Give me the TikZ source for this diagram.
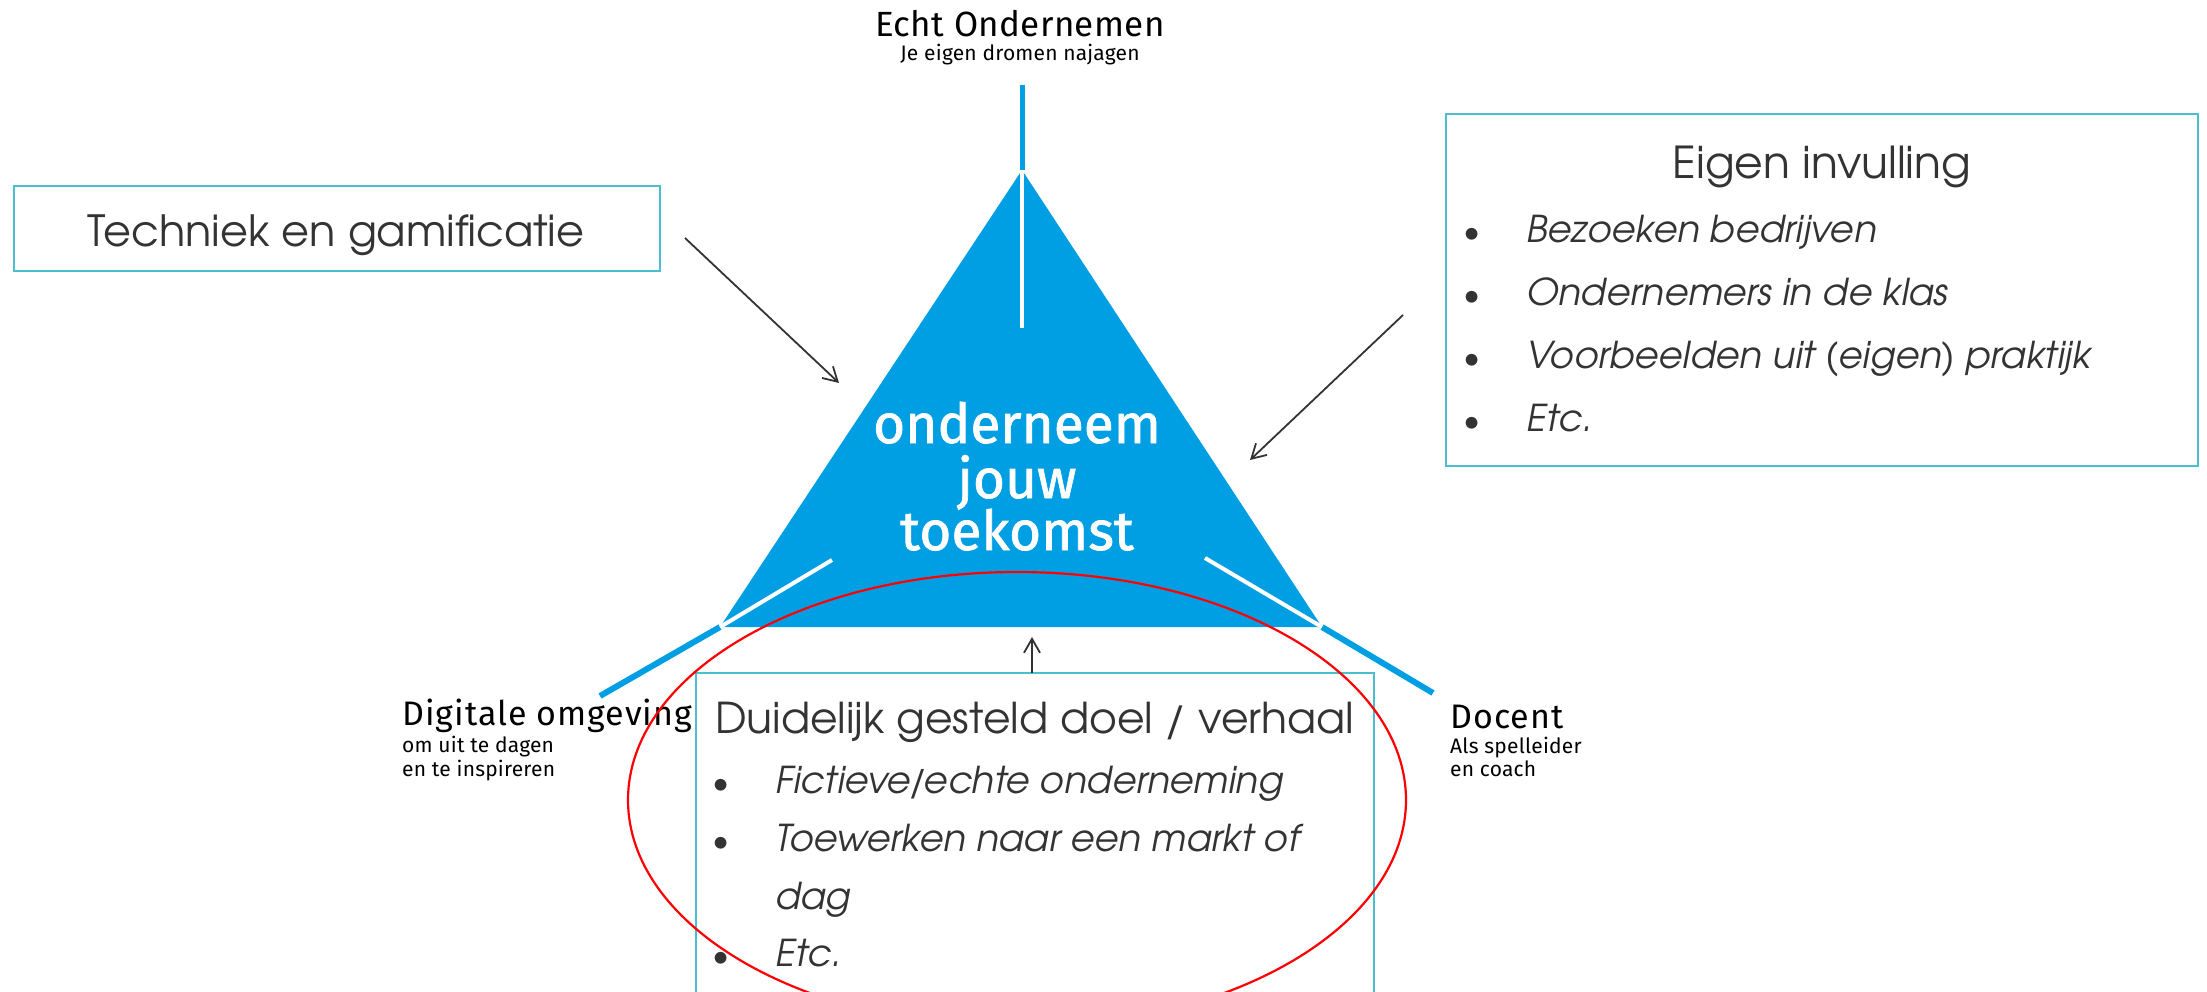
\documentclass[tikz,border=0pt]{standalone}
\usepackage{fontspec}
\setmainfont{Fira Sans}
\newfontfamily\cg{texgyreadventor}[Extension=.otf, UprightFont=*-regular, ItalicFont=*-italic]
\newfontfamily\firamed{Fira Sans}[FakeBold=1.3]
\newfontfamily\lblwide{Fira Sans}[LetterSpace=3]
\newfontfamily\lblmid{Fira Sans}[LetterSpace=1]
\newfontfamily\lblsmall{Fira Sans}[LetterSpace=1]
\usetikzlibrary{arrows.meta}
\definecolor{tblue}{HTML}{009FE3}
\definecolor{tframe}{HTML}{4BBFCE}
\definecolor{ttext}{HTML}{333333}
\begin{document}
\begin{tikzpicture}[x=1pt,y=-1pt,
  box/.style={draw=tframe, line width=2.5pt},
  arr/.style={draw=ttext, line width=1.8pt, -{Straight Barb[length=14pt,width=16pt,line width=1.8pt]}},
  lab/.style={inner sep=0pt, anchor=base west, text=black},
  biglab/.style={lab, font=\lblwide\fontsize{34}{40}\selectfont},
  smalllab/.style={lab, font=\lblsmall\fontsize{21}{25}\selectfont},
  boxtxt/.style={inner sep=0pt, text=ttext, font=\cg\fontsize{44}{50}\selectfont},
  item/.style={inner sep=0pt, anchor=base west, text=ttext, font=\cg\itshape\fontsize{37}{44}\selectfont},
  bul/.style={inner sep=0pt, anchor=base, text=ttext, font=\cg\fontsize{33}{40}\selectfont},
  mid/.style={inner sep=0pt, anchor=base, text=white, font=\firamed\fontsize{55}{60}\selectfont},
  blueline/.style={draw=tblue, line width=6pt},
  whiteline/.style={draw=white, line width=4pt}]
\useasboundingbox (0,0) rectangle (2207,992);

% triangle
\coordinate (apex) at (1022,170);
\coordinate (bl) at (720,627);
\coordinate (br) at (1322,627);
\fill[tblue] (apex) -- (bl) -- (br) -- cycle;

% Y lines
\coordinate (topend) at (1022,85);
\coordinate (topin) at (1022,328);
\coordinate (lend) at (600,696);
\coordinate (lin) at (832,560);
\coordinate (rend) at (1433,693);
\coordinate (rin) at (1205,558);
\draw[blueline, line width=5pt] (topend) -- (apex);
\draw[whiteline] (apex) -- (topin);
\draw[blueline] (bl) -- (lend);
\draw[whiteline] (bl) -- (lin);
\draw[blueline] (br) -- (rend);
\draw[whiteline] (br) -- (rin);

% centre text
\node[mid] (c1) at (1017,443) {onderneem};
\node[mid] (c2) at (1017,498) {jouw};
\node[mid] (c3) at (1017,550) {toekomst};

% labels
\node[lab, anchor=base, font=\lblmid\fontsize{35}{40}\selectfont] (echt) at (1020,37) {Echt Ondernemen};
\node[smalllab, anchor=base] (echt2) at (1020,61) {Je eigen dromen najagen};
\node[biglab] (dig) at (402,725) {Digitale omgeving};
\node[smalllab] (dig2) at (402,752) {om uit te dagen};
\node[smalllab] (dig3) at (402,776) {en te inspireren};
\node[biglab] (doc) at (1450,728) {Docent};
\node[smalllab] (doc2) at (1450,753) {Als spelleider};
\node[smalllab] (doc3) at (1450,776) {en coach};

% Techniek box
\draw[box] (14,186) rectangle (660,271);
\node[boxtxt, anchor=base, font=\cg\fontsize{43}{50}\selectfont] (tech) at (336,247) {Techniek en gamificatie};

% Eigen invulling box
\draw[box] (1446,114) rectangle (2198,466);
\node[boxtxt, anchor=base] (eigen) at (1822,179) {Eigen invulling};
\foreach \y/\t [count=\i] in {243/Bezoeken bedrijven, 305/Ondernemers in de klas, 368/Voorbeelden uit (eigen) praktijk, 431/Etc.}{
  \node[bul] (eb\i) at (1472,\y) {\textbullet};
  \node[item] (ei\i) at (1526,\y) {\t};
}

% Duidelijk box
\draw[box] (696,673) rectangle (1374,1010);
\node[boxtxt, anchor=base west, font=\cg\fontsize{42.5}{48}\selectfont] (doel) at (715,733) {Duidelijk gesteld doel / verhaal};
\node[bul] (db1) at (721,793) {\textbullet};
\node[item] (di1) at (775,793) {Fictieve\kern-3pt/\kern-3pt echte onderneming};
\node[bul] (db2) at (721,851) {\textbullet};
\node[item] (di2) at (775,851) {Toewerken naar een markt of};
\node[item] (dag) at (775,909) {dag};
\node[bul] (db3) at (721,966) {\textbullet};
\node[item] (di3) at (775,966) {Etc.};

% arrows
\coordinate (a1s) at (685,238);
\coordinate (a1e) at (839,383);
\coordinate (a2s) at (1403,315);
\coordinate (a2e) at (1250,460);
\coordinate (a3s) at (1032,673);
\coordinate (a3e) at (1032,637);
\draw[arr] (a1s) -- (a1e);
\draw[arr] (a2s) -- (a2e);
\draw[arr] (a3s) -- (a3e);

% red ellipse
\coordinate (ec) at (1017,800);
\draw[red, line width=2.2pt] (ec) ellipse [x radius=389, y radius=228];
\end{tikzpicture}
\end{document}
